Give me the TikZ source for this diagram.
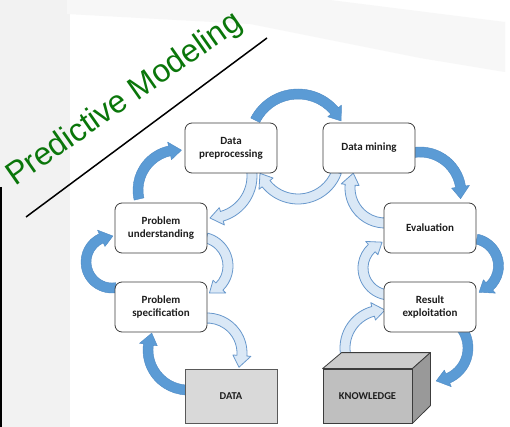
\documentclass[tikz,border=0pt]{standalone}
\usepackage{fontspec}
\newfontfamily\carl{Carlito}
\newfontfamily\libsans{Liberation Sans}
\definecolor{solidblue}{RGB}{91,155,213}
\definecolor{solidedge}{RGB}{78,138,196}
\definecolor{lightfill}{RGB}{218,232,246}
\definecolor{lightedge}{RGB}{104,152,204}
\definecolor{boxdraw}{RGB}{60,60,60}
\definecolor{textc}{RGB}{30,30,30}
\definecolor{pmgreen}{RGB}{10,118,10}
\newcommand\blockarc[5]{%
  \pgfmathsetmacro\baRo{#3+5}%
  \pgfmathsetmacro\baRi{#3-5}%
  \pgfmathsetmacro\baHo{#3+9}%
  \pgfmathsetmacro\baHi{#3-9}%
  \pgfmathsetmacro\baS{(#5>#4)*2-1}%
  \pgfmathsetmacro\baB{#5-\baS*12/#3*57.2958}%
  \draw[#1] ([shift={(#4:\baRo)}]#2) arc[start angle=#4,end angle=\baB,radius=\baRo]
    -- ([shift={(\baB:\baHo)}]#2) -- ([shift={(#5:#3)}]#2) -- ([shift={(\baB:\baHi)}]#2)
    -- ([shift={(\baB:\baRi)}]#2) arc[start angle=\baB,end angle=#4,radius=\baRi] -- cycle;}
\begin{document}
\begin{tikzpicture}[x=1pt,y=-1pt,
  stage/.style={draw=boxdraw, fill=white, rounded corners=7pt, line width=0.8pt,
    minimum width=92pt, minimum height=50pt, align=center, inner sep=2pt,
    font=\carl\bfseries\fontsize{11}{13}\selectfont, text=textc},
  store/.style={draw=boxdraw, line width=0.8pt, minimum height=54pt, inner sep=0pt,
    font=\carl\bfseries\fontsize{10.5}{12}\selectfont, text=textc},
  solidarr/.style={fill=solidblue, draw=solidedge, line width=0.4pt, line join=round},
  lightarr/.style={fill=lightfill, draw=lightedge, line width=0.8pt, line join=round}]
\useasboundingbox (0,0) rectangle (510,427);
\fill[white] (0,0) rectangle (510,427);
% background
\fill[black!5] (0,0) rectangle (70,427);
\fill[black!3] (67,0) -- (330,0) -- (505,22) -- (505,72) -- (420,58) -- (250,24) -- (67,14) -- cycle;
\fill[black!3] (67,0) -- (300,0) -- (480,28) -- (480,60) -- (400,45) -- (230,14) -- (67,8) -- cycle;
\coordinate (vt) at (1,187);
\coordinate (vb) at (1,427);
\draw[line width=2pt] (vt) -- (vb);
% arc centres
\coordinate (s1) at (112,262);
\coordinate (s2) at (178,190);
\coordinate (s3) at (298,142);
\coordinate (s4) at (420,193);
\coordinate (s5) at (471,266);
\coordinate (s6) at (435,348);
\coordinate (s7) at (188,350);
\coordinate (l1) at (207,353);
\coordinate (l2) at (199,266);
\coordinate (l3) at (210,176);
\coordinate (l4) at (298,158);
\coordinate (l5) at (385,188);
\coordinate (l6) at (390,268);
\coordinate (l7) at (383,348);
% solid arrows
\blockarc{solidarr}{s1}{26}{80}{272}
\blockarc{solidarr}{s2}{40}{167}{275}
\blockarc{solidarr}{s3}{48}{207}{334}
\blockarc{solidarr}{s4}{41}{260}{368}
\blockarc{solidarr}{s5}{27.5}{-78}{73}
\blockarc{solidarr}{s6}{33}{-42}{88}
\blockarc{solidarr}{s7}{40}{85}{205}
% light arrows
\blockarc{lightarr}{l1}{35}{265}{384}
\blockarc{lightarr}{l2}{29}{285}{429}
\blockarc{lightarr}{l3}{42}{-10}{90}
\blockarc{lightarr}{l4}{41}{20}{158}
\blockarc{lightarr}{l5}{35}{85}{205}
\blockarc{lightarr}{l6}{27}{100}{253}
\blockarc{lightarr}{l7}{38}{166}{273}
% stages
\node[stage] (dp) at (231,148) {Data\\preprocessing};
\node[stage] (dm) at (369,148) {Data mining};
\node[stage] (pu) at (161,228) {Problem\\understanding};
\node[stage] (ps) at (161,307) {Problem\\specification};
\node[stage] (ev) at (430,228) {Evaluation};
\node[stage] (re) at (430,307) {Result\\exploitation};
% stores
\node[store, fill=black!15, draw=black!65, minimum width=92pt] (data) at (231,396) {DATA};
\node[store, fill=black!25, minimum width=89pt] (kn) at (367.5,396) {KNOWLEDGE};
\draw[boxdraw, fill=black!20, line width=0.8pt, line join=round] (kn.north west) -- ++(19,-16) -- ++(89,0) -- (kn.north east) -- cycle;
\draw[boxdraw, fill=black!40, line width=0.8pt, line join=round] (kn.north east) -- ++(18,-16) -- ++(0,53) -- (kn.south east) -- cycle;
% title
\node[font=\libsans\fontsize{32}{32}\selectfont, text=pmgreen, rotate=35, anchor=base west, inner sep=0pt] (title) at (15,187) {Predictive Modeling};
\coordinate (ua) at (26,217);
\coordinate (ub) at (267,38);
\draw[line width=1.5pt] (ua) -- (ub);
\end{tikzpicture}
\end{document}
